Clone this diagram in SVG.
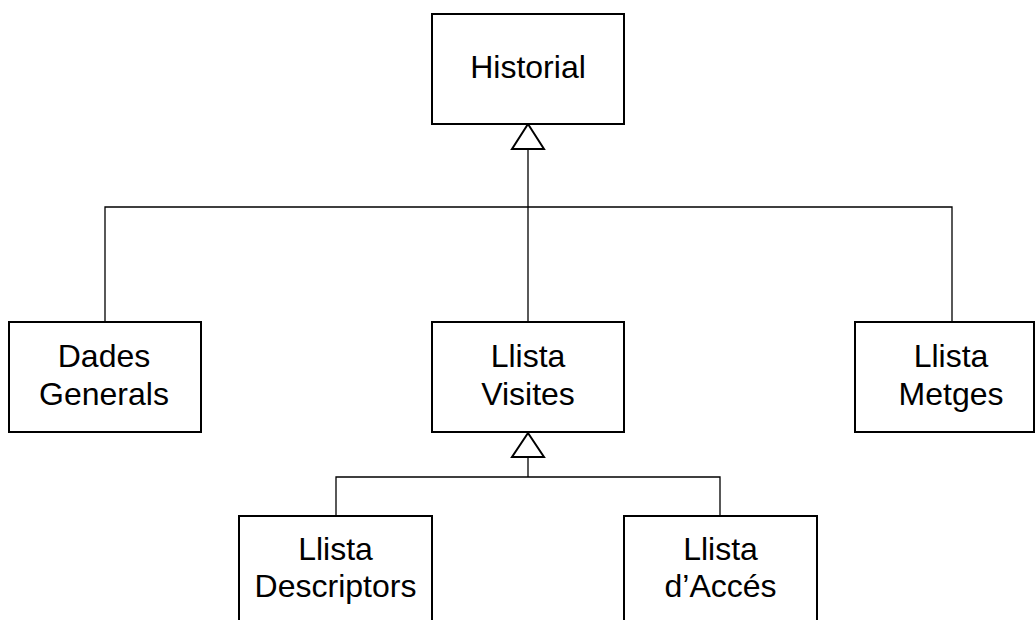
<svg xmlns="http://www.w3.org/2000/svg" width="1035" height="620" viewBox="0 0 1035 620">
  <style>
    .box { fill: #ffffff; stroke: #000000; stroke-width: 2; }
    .line { fill: none; stroke: #000000; stroke-width: 1.3; }
    .tri { fill: #ffffff; stroke: #000000; stroke-width: 2; stroke-linejoin: miter; }
    .label { font-family: "Liberation Sans", Arial, sans-serif; font-size: 32px; fill: #000000; text-anchor: middle; }
  </style>
  <rect width="1035" height="620" fill="#ffffff"/>

  <!-- generalisation connectors -->
  <g id="connectors">
    <path class="line" d="M528,149 V322"/>
    <path class="line" d="M105,322 V207 H952 V322"/>
    <path class="line" d="M528,457 V477"/>
    <path class="line" d="M336,516 V477 H720 V516"/>
    <polygon class="tri" points="528,124 512,149 544,149"/>
    <polygon class="tri" points="528,433 512,457 544,457"/>
  </g>

  <g id="historial">
    <rect class="box" x="432" y="14" width="192" height="110"/>
    <text class="label" x="528" y="78">Historial</text>
  </g>

  <g id="dades-generals">
    <rect class="box" x="9" y="322" width="192" height="110"/>
    <text class="label" x="104" y="367">Dades</text>
    <text class="label" x="104" y="405">Generals</text>
  </g>

  <g id="llista-visites">
    <rect class="box" x="432" y="322" width="192" height="110"/>
    <text class="label" x="528" y="367">Llista</text>
    <text class="label" x="528" y="405">Visites</text>
  </g>

  <g id="llista-metges">
    <rect class="box" x="855" y="322" width="179" height="110"/>
    <text class="label" x="951" y="367">Llista</text>
    <text class="label" x="951" y="405">Metges</text>
  </g>

  <g id="llista-descriptors">
    <rect class="box" x="239" y="516" width="193" height="120"/>
    <text class="label" x="335.5" y="560">Llista</text>
    <text class="label" x="335.5" y="597">Descriptors</text>
  </g>

  <g id="llista-acces">
    <rect class="box" x="624" y="516" width="193" height="120"/>
    <text class="label" x="720.5" y="560">Llista</text>
    <text class="label" x="720.5" y="597">d’Accés</text>
  </g>
</svg>
